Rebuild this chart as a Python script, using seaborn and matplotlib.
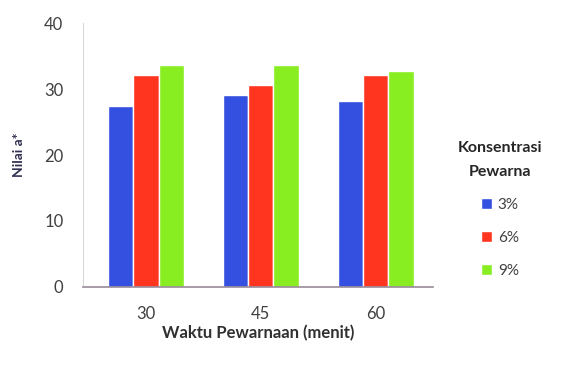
import pandas as pd
import matplotlib
matplotlib.use('Agg')
import matplotlib.pyplot as plt
import seaborn as sns

# data
waktu = ['30', '45', '60']
konsentrasi = ['3%', '6%', '9%']
nilai_3 = [27.5, 29.1, 28.2]
nilai_6 = [32.2, 30.6, 32.1]
nilai_9 = [33.6, 33.6, 32.7]

df = pd.DataFrame({
    'waktu': waktu * 3,
    'konsentrasi': [k for k in konsentrasi for _ in waktu],
    'nilai': nilai_3 + nilai_6 + nilai_9,
})

warna = ['#3350E0', '#FF3520', '#88EE22']

sns.set_style('white')
plt.rcParams['font.family'] = ['Lato', 'DejaVu Sans']

fig = plt.figure(figsize=(5.84, 3.74), dpi=100)
ax = fig.add_axes([0.142, 0.233, 0.599, 0.705])
sns.barplot(data=df, x='waktu', y='nilai', hue='konsentrasi', palette=warna,
            width=0.66, gap=0, saturation=1, ax=ax, legend=True)

ax.set_ylim(0, 40)
ax.set_yticks([0, 10, 20, 30, 40])
ax.set_xlim(-0.548, 2.497)
for s in ['top', 'right']:
    ax.spines[s].set_visible(False)
ax.spines['left'].set_color('#d8d8d8')
ax.spines['bottom'].set_color('#9a8a9a')
ax.spines['bottom'].set_linewidth(1.2)
ax.tick_params(axis='y', length=4, color='#c8c8c8', labelsize=12, labelcolor='#404040', pad=10)
ax.tick_params(axis='x', length=0, labelsize=12, labelcolor='#404040', pad=14)
ax.set_xlabel('Waktu Pewarnaan (menit)', fontsize=12, fontweight='bold', color='#303030', labelpad=2)
ax.set_ylabel('Nilai a*', fontsize=10, fontweight='bold', color='#303050', labelpad=14)

ax.legend_.remove()
handles, labels = ax.get_legend_handles_labels()
leg = fig.legend(handles, labels, title='Konsentrasi\nPewarna', loc='center',
                 bbox_to_anchor=(0.856, 0.44), frameon=False, fontsize=11,
                 handlelength=0.7, handleheight=0.7, handletextpad=0.4,
                 labelspacing=1.25, title_fontproperties={'size': 11.5, 'weight': 'bold'})
leg._legend_box.align = 'center'
leg.get_title().set_multialignment('center')
leg.get_title().set_linespacing(1.9)
for t in leg.get_texts():
    t.set_color('#404040')

fig.savefig('out.png', dpi=100)
